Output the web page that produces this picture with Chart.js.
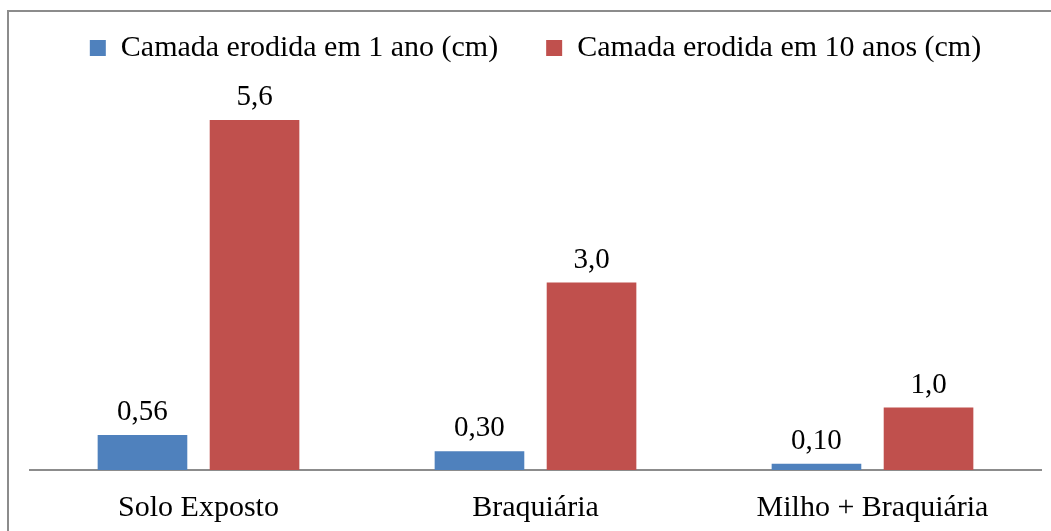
<!DOCTYPE html>
<html>
<head>
<meta charset="utf-8">
<script src="https://cdn.jsdelivr.net/npm/chart.js@4/dist/chart.umd.min.js"></script>
<style>
  html, body { margin: 0; padding: 0; background: #fff; overflow: hidden; }
  #moldura {
    position: absolute; left: 7px; top: 10px; width: 1200px; height: 700px;
    border: 2px solid #8c8c8c;
  }
  #wrap { position: absolute; left: 0; top: 0; width: 1051px; height: 531px; }
</style>
</head>
<body>
<div id="moldura"></div>
<div id="wrap"><canvas id="grafico" width="1051" height="531"></canvas></div>
<script>
// Dados
const categorias = ['Solo Exposto', 'Braquiária', 'Milho + Braquiária'];
const camada1ano = [0.56, 0.30, 0.10];
const camada10anos = [5.6, 3.0, 1.0];
const series = ['Camada erodida em 1 ano (cm)', 'Camada erodida em 10 anos (cm)'];
const casasDecimais = [2, 1];

const fonte = '"Liberation Serif", "Times New Roman", serif';

// rótulos em cima das barras, com vírgula decimal
const rotulosBarras = {
  id: 'rotulosBarras',
  afterDatasetsDraw(chart) {
    const ctx = chart.ctx;
    ctx.save();
    ctx.font = '29px ' + fonte;
    ctx.fillStyle = '#000';
    ctx.textAlign = 'center';
    ctx.textBaseline = 'bottom';
    chart.data.datasets.forEach((ds, i) => {
      chart.getDatasetMeta(i).data.forEach((bar, j) => {
        const txt = ds.data[j].toFixed(casasDecimais[i]).replace('.', ',');
        ctx.fillText(txt, bar.x, bar.y - 8);
      });
    });
    ctx.restore();
  }
};

// altura fixa da legenda (o padding grande serve só pro espaço entre itens)
const alturaLegenda = {
  id: 'alturaLegenda',
  beforeInit(chart) {
    const fitOriginal = chart.legend.fit;
    chart.legend.fit = function () {
      fitOriginal.call(this);
      this.height = 85;
    };
  }
};

new Chart(document.getElementById('grafico'), {
  type: 'bar',
  data: {
    labels: categorias,
    datasets: [
      { label: series[0], data: camada1ano, backgroundColor: '#4f81bd' },
      { label: series[1], data: camada10anos, backgroundColor: '#c0504d' }
    ]
  },
  options: {
    responsive: false,
    animation: false,
    categoryPercentage: 0.665,
    barPercentage: 0.8,
    layout: { padding: { left: 30, right: 10, top: -15, bottom: -15 } },
    plugins: {
      legend: {
        position: 'top',
        labels: {
          font: { family: fonte, size: 30 },
          color: '#000',
          boxWidth: 16,
          boxHeight: 16,
          padding: 48
        }
      },
      tooltip: { enabled: false }
    },
    scales: {
      x: {
        grid: { display: false, drawTicks: false },
        border: { color: '#8c8c8c', width: 2 },
        ticks: { font: { family: fonte, size: 30 }, color: '#000', padding: 20 }
      },
      y: {
        display: false,
        min: 0,
        max: 6.4
      }
    }
  },
  plugins: [rotulosBarras, alturaLegenda]
});
</script>
</body>
</html>
